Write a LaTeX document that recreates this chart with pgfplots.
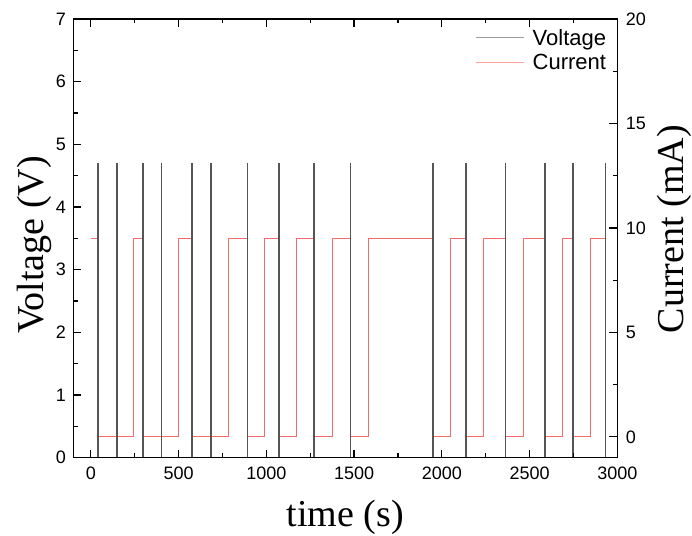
\documentclass[border=0pt]{standalone}
\usepackage{pgfplots}
\pgfplotsset{compat=1.18}
\usepackage{fontspec}
\setmainfont{Liberation Sans}
\newfontfamily\labelfont{Liberation Serif}

\definecolor{voltcol}{HTML}{555555}
\definecolor{currcol}{HTML}{F56A6A}
\definecolor{voltleg}{HTML}{999999}
\definecolor{currleg}{HTML}{FFA0A0}

\begin{document}
\begin{tikzpicture}
\pgfplotsset{
  every axis/.append style={
    scale only axis, width=544pt, height=438.7pt,
    xmin=-100, xmax=3000,
    axis line style={line width=1.3pt},
    tick align=inside,
    major tick length=8pt, minor tick length=4.5pt,
    every tick/.style={black, line width=1.2pt},
    tick label style={font=\fontsize{18}{20}\selectfont},
    /pgf/number format/assume math mode=true,
    /pgf/number format/1000 sep={},
    label style={font=\labelfont\fontsize{38}{44}\selectfont},
  },
}

% current (right axis), drawn first so the voltage spikes sit on top
\begin{axis}[
  hide x axis,
  axis y line*=right,
  ymin=-1, ymax=20, ytick={0,5,10,15,20}, minor y tick num=1,
  yticklabel style={xshift=5pt},
  ylabel={Current (mA)},
  ylabel style={at={(axis description cs:1.1208,0.521)}, anchor=base},
]
\addplot[currcol, line width=1pt] coordinates {
  (0,9.47) (42,9.47) (42,0) (145,0) (145,9.47) (145,0)
  (245,0) (245,9.47) (298,9.47) (298,0) (403,0) (403,9.47) (403,0)
  (501,0) (501,9.47) (577,9.47) (577,0) (684,0) (684,9.47) (684,0)
  (782,0) (782,9.47) (893,9.47) (893,0) (992,0) (992,9.47) (1071,9.47) (1071,0)
  (1172,0) (1172,9.47) (1272,9.47) (1272,0) (1377,0) (1377,9.47) (1480,9.47) (1480,0)
  (1580,0) (1580,9.47) (1950,9.47) (1950,0) (2050,0) (2050,9.47) (2137,9.47) (2137,0)
  (2239,0) (2239,9.47) (2363,9.47) (2363,0) (2463,0) (2463,9.47) (2587,9.47) (2587,0)
  (2686,0) (2686,9.47) (2746,9.47) (2746,0) (2847,0) (2847,9.47) (2933,9.47) (2933,0)
};
\end{axis}

% voltage (left axis)
\begin{axis}[
  axis on top,
  ymin=0, ymax=7, ytick={0,1,...,7}, minor y tick num=1, ytick pos=left,
  xtick={0,500,...,3000}, minor x tick num=1, xtick pos=both, xticklabel pos=bottom,
  xticklabel style={yshift=-6pt},
  yticklabel style={xshift=-4pt},
  xlabel={time (s)},
  xlabel style={at={(axis description cs:0.5,-0.157)}, anchor=base},
  ylabel={Voltage (V)},
  ylabel style={at={(axis description cs:-0.0557,0.485)}, anchor=base},
  legend style={draw=none, fill=none, at={(axis description cs:1,1)}, anchor=north east,
    xshift=-6pt, yshift=-6pt, font=\fontsize{22}{26}\selectfont, row sep=3pt,
    /tikz/every odd column/.append style={column sep=6pt}},
  legend image code/.code={\draw[#1] (0pt,0pt) -- (48pt,0pt);},
]
\addlegendimage{voltleg, line width=1pt}
\addlegendentry{Voltage}
\addlegendimage{currleg, line width=1pt}
\addlegendentry{Current}
\addplot[voltcol, line width=1.8pt, forget plot] coordinates {
  (0,0) (42,0) (42,4.7) (42,0) (150,0) (150,4.7) (150,0)
  (298,0) (298,4.7) (298,0) (403,0) (403,4.7) (403,0)
  (577,0) (577,4.7) (577,0) (684,0) (684,4.7) (684,0)
  (893,0) (893,4.7) (893,0) (1071,0) (1071,4.7) (1071,0)
  (1272,0) (1272,4.7) (1272,0) (1480,0) (1480,4.7) (1480,0)
  (1950,0) (1950,4.7) (1950,0) (2137,0) (2137,4.7) (2137,0)
  (2363,0) (2363,4.7) (2363,0) (2587,0) (2587,4.7) (2587,0)
  (2746,0) (2746,4.7) (2746,0) (2933,0) (2933,4.7) (2933,0)
};
\end{axis}

\pgfresetboundingbox
\path[use as bounding box] ([shift={(-73.3pt,-77.3pt)}]current axis.south west)
  rectangle ([shift={(74.7pt,19pt)}]current axis.north east);
\end{tikzpicture}
\end{document}
